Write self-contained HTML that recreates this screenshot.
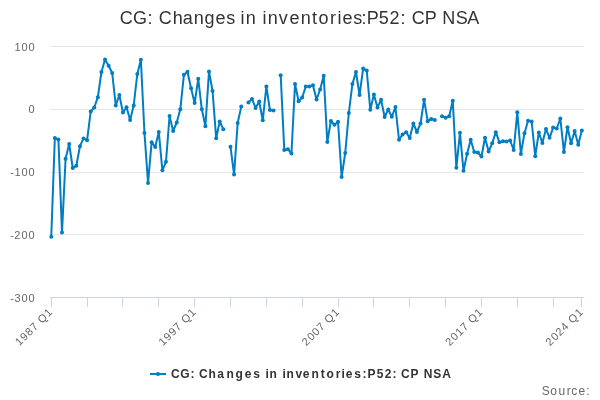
<!DOCTYPE html>
<html><head><meta charset="utf-8"><style>
html,body{margin:0;padding:0;background:#fff;}
body{width:600px;height:400px;overflow:hidden;}
svg{display:block;font-family:"Liberation Sans",sans-serif;will-change:transform;}
</style></head><body>
<svg width="600" height="400" viewBox="0 0 600 400">
<rect width="600" height="400" fill="#fff"/>
<text x="119.69 132.96 147.54 153.50 158.69 172.71 182.85 193.74 204.59 215.57 226.31 234.50 240.51 245.74 256.50 262.51 267.74 278.83 289.57 300.74 311.98 318.51 330.07 337.51 342.57 353.31 361.54 366.74 378.65 389.48 400.54 406.50 411.69 424.74 436.50 442.23 455.81 467.15" y="24.3" font-size="18" fill="#333">CG: Changes in inventories:P52: CP NSA</text>
<g stroke="#e6e6e6" stroke-width="1" fill="none"><path d="M50 46.5 L584 46.5"/><path d="M50 109.5 L584 109.5"/><path d="M50 172.5 L584 172.5"/><path d="M50 234.5 L584 234.5"/></g>
<g stroke="#ccd6eb" stroke-width="1" fill="none"><path d="M50 297.5 L584 297.5"/><path d="M51.5 297 L51.5 307"/><path d="M87.5 297 L87.5 307"/><path d="M122.5 297 L122.5 307"/><path d="M158.5 297 L158.5 307"/><path d="M194.5 297 L194.5 307"/><path d="M230.5 297 L230.5 307"/><path d="M266.5 297 L266.5 307"/><path d="M302.5 297 L302.5 307"/><path d="M338.5 297 L338.5 307"/><path d="M373.5 297 L373.5 307"/><path d="M409.5 297 L409.5 307"/><path d="M445.5 297 L445.5 307"/><path d="M481.5 297 L481.5 307"/><path d="M517.5 297 L517.5 307"/><path d="M553.5 297 L553.5 307"/><path d="M581.5 297 L581.5 307"/></g>
<g font-size="11" fill="#666"><text x="14.39 21.44 28.44" y="50.7" >100</text><text x="28.44" y="112.7" >0</text><text x="10.15 14.39 21.44 28.44" y="175.7" >-100</text><text x="10.15 14.29 21.44 28.44" y="238.7" >-200</text><text x="10.15 14.45 21.44 28.44" y="301.7" >-300</text></g>
<g font-size="11" fill="#666"><g transform="translate(53.25 312.7) rotate(-45)"><text x="-47.61 -40.60 -33.56 -26.58 -19.53 -15.95 -6.61" y="0" >1987 Q1</text></g><g transform="translate(196.65 312.7) rotate(-45)"><text x="-47.61 -40.60 -33.60 -26.58 -19.53 -15.95 -6.61" y="0" >1997 Q1</text></g><g transform="translate(340.05 312.7) rotate(-45)"><text x="-47.71 -40.56 -33.56 -26.58 -19.53 -15.95 -6.61" y="0" >2007 Q1</text></g><g transform="translate(483.45 312.7) rotate(-45)"><text x="-47.71 -40.56 -33.61 -26.58 -19.53 -15.95 -6.61" y="0" >2017 Q1</text></g><g transform="translate(583.83 312.7) rotate(-45)"><text x="-47.71 -40.56 -33.71 -26.56 -19.53 -15.95 -6.61" y="0" >2024 Q1</text></g></g>
<g stroke="#007dc3" stroke-width="2" fill="none" stroke-linejoin="round" stroke-linecap="round"><path d="M51.25 236.80 L54.84 138.00 L58.42 139.50 L62.00 232.60 L65.59 158.70 L69.17 144.00 L72.76 168.00 L76.34 165.70 L79.93 146.20 L83.52 138.40 L87.10 140.20 L90.69 111.50 L94.27 107.50 L97.85 97.20 L101.44 72.00 L105.03 59.50 L108.61 65.80 L112.19 73.00 L115.78 105.50 L119.36 95.00 L122.95 112.50 L126.53 107.20 L130.12 120.00 L133.70 105.50 L137.29 74.00 L140.88 59.70 L144.46 133.00 L148.05 183.00 L151.63 142.20 L155.22 147.00 L158.80 132.00 L162.38 170.30 L165.97 161.80 L169.56 116.00 L173.14 131.00 L176.72 122.50 L180.31 109.30 L183.90 74.80 L187.48 71.80 L191.06 88.20 L194.65 103.00 L198.23 78.80 L201.82 109.30 L205.41 126.20 L208.99 71.50 L212.57 91.00 L216.16 138.20 L219.75 121.50 L223.33 129.20"/><path d="M230.50 146.80 L234.09 174.50 L237.67 123.00 L241.25 106.60"/><path d="M248.43 102.50 L252.01 98.90 L255.59 107.90 L259.18 101.50 L262.76 120.30 L266.35 86.50 L269.94 110.00 L273.52 110.50"/><path d="M280.69 75.20 L284.27 150.00 L287.86 149.20 L291.44 153.50 L295.03 84.00 L298.62 101.20 L302.20 97.50 L305.78 86.50 L309.37 86.50 L312.95 85.30 L316.54 99.50 L320.12 89.50 L323.71 75.80 L327.30 142.00 L330.88 121.00 L334.46 124.80 L338.05 121.80 L341.63 177.00 L345.22 153.00 L348.81 113.00 L352.39 84.00 L355.98 72.00 L359.56 95.00 L363.14 68.60 L366.73 70.60 L370.31 109.80 L373.90 94.50 L377.49 107.50 L381.07 99.80 L384.65 117.00 L388.24 109.50 L391.82 116.80 L395.41 107.00 L399.00 139.70 L402.58 134.50 L406.17 132.20 L409.75 138.00 L413.33 123.50 L416.92 132.00 L420.50 123.50 L424.09 99.70 L427.68 121.20 L431.26 119.00 L434.84 120.00"/><path d="M442.01 116.20 L445.60 117.80 L449.19 116.20 L452.77 100.80 L456.36 167.80 L459.94 132.80 L463.52 170.80 L467.11 153.80 L470.69 139.80 L474.28 152.00 L477.87 152.50 L481.45 156.50 L485.03 137.80 L488.62 151.50 L492.20 143.30 L495.79 132.20 L499.38 142.20 L502.96 141.20 L506.55 141.50 L510.13 140.50 L513.71 150.00 L517.30 112.20 L520.88 154.00 L524.47 133.20 L528.06 120.80 L531.64 121.50 L535.23 156.20 L538.81 132.50 L542.39 143.00 L545.98 129.00 L549.57 137.80 L553.15 127.60 L556.74 128.50 L560.32 118.50 L563.90 152.00 L567.49 127.20 L571.08 143.20 L574.66 131.00 L578.25 144.80 L581.83 130.50"/></g>
<g fill="#007dc3"><circle cx="51.25" cy="236.80" r="2"/><circle cx="54.84" cy="138.00" r="2"/><circle cx="58.42" cy="139.50" r="2"/><circle cx="62.00" cy="232.60" r="2"/><circle cx="65.59" cy="158.70" r="2"/><circle cx="69.17" cy="144.00" r="2"/><circle cx="72.76" cy="168.00" r="2"/><circle cx="76.34" cy="165.70" r="2"/><circle cx="79.93" cy="146.20" r="2"/><circle cx="83.52" cy="138.40" r="2"/><circle cx="87.10" cy="140.20" r="2"/><circle cx="90.69" cy="111.50" r="2"/><circle cx="94.27" cy="107.50" r="2"/><circle cx="97.85" cy="97.20" r="2"/><circle cx="101.44" cy="72.00" r="2"/><circle cx="105.03" cy="59.50" r="2"/><circle cx="108.61" cy="65.80" r="2"/><circle cx="112.19" cy="73.00" r="2"/><circle cx="115.78" cy="105.50" r="2"/><circle cx="119.36" cy="95.00" r="2"/><circle cx="122.95" cy="112.50" r="2"/><circle cx="126.53" cy="107.20" r="2"/><circle cx="130.12" cy="120.00" r="2"/><circle cx="133.70" cy="105.50" r="2"/><circle cx="137.29" cy="74.00" r="2"/><circle cx="140.88" cy="59.70" r="2"/><circle cx="144.46" cy="133.00" r="2"/><circle cx="148.05" cy="183.00" r="2"/><circle cx="151.63" cy="142.20" r="2"/><circle cx="155.22" cy="147.00" r="2"/><circle cx="158.80" cy="132.00" r="2"/><circle cx="162.38" cy="170.30" r="2"/><circle cx="165.97" cy="161.80" r="2"/><circle cx="169.56" cy="116.00" r="2"/><circle cx="173.14" cy="131.00" r="2"/><circle cx="176.72" cy="122.50" r="2"/><circle cx="180.31" cy="109.30" r="2"/><circle cx="183.90" cy="74.80" r="2"/><circle cx="187.48" cy="71.80" r="2"/><circle cx="191.06" cy="88.20" r="2"/><circle cx="194.65" cy="103.00" r="2"/><circle cx="198.23" cy="78.80" r="2"/><circle cx="201.82" cy="109.30" r="2"/><circle cx="205.41" cy="126.20" r="2"/><circle cx="208.99" cy="71.50" r="2"/><circle cx="212.57" cy="91.00" r="2"/><circle cx="216.16" cy="138.20" r="2"/><circle cx="219.75" cy="121.50" r="2"/><circle cx="223.33" cy="129.20" r="2"/><circle cx="230.50" cy="146.80" r="2"/><circle cx="234.09" cy="174.50" r="2"/><circle cx="237.67" cy="123.00" r="2"/><circle cx="241.25" cy="106.60" r="2"/><circle cx="248.43" cy="102.50" r="2"/><circle cx="252.01" cy="98.90" r="2"/><circle cx="255.59" cy="107.90" r="2"/><circle cx="259.18" cy="101.50" r="2"/><circle cx="262.76" cy="120.30" r="2"/><circle cx="266.35" cy="86.50" r="2"/><circle cx="269.94" cy="110.00" r="2"/><circle cx="273.52" cy="110.50" r="2"/><circle cx="280.69" cy="75.20" r="2"/><circle cx="284.27" cy="150.00" r="2"/><circle cx="287.86" cy="149.20" r="2"/><circle cx="291.44" cy="153.50" r="2"/><circle cx="295.03" cy="84.00" r="2"/><circle cx="298.62" cy="101.20" r="2"/><circle cx="302.20" cy="97.50" r="2"/><circle cx="305.78" cy="86.50" r="2"/><circle cx="309.37" cy="86.50" r="2"/><circle cx="312.95" cy="85.30" r="2"/><circle cx="316.54" cy="99.50" r="2"/><circle cx="320.12" cy="89.50" r="2"/><circle cx="323.71" cy="75.80" r="2"/><circle cx="327.30" cy="142.00" r="2"/><circle cx="330.88" cy="121.00" r="2"/><circle cx="334.46" cy="124.80" r="2"/><circle cx="338.05" cy="121.80" r="2"/><circle cx="341.63" cy="177.00" r="2"/><circle cx="345.22" cy="153.00" r="2"/><circle cx="348.81" cy="113.00" r="2"/><circle cx="352.39" cy="84.00" r="2"/><circle cx="355.98" cy="72.00" r="2"/><circle cx="359.56" cy="95.00" r="2"/><circle cx="363.14" cy="68.60" r="2"/><circle cx="366.73" cy="70.60" r="2"/><circle cx="370.31" cy="109.80" r="2"/><circle cx="373.90" cy="94.50" r="2"/><circle cx="377.49" cy="107.50" r="2"/><circle cx="381.07" cy="99.80" r="2"/><circle cx="384.65" cy="117.00" r="2"/><circle cx="388.24" cy="109.50" r="2"/><circle cx="391.82" cy="116.80" r="2"/><circle cx="395.41" cy="107.00" r="2"/><circle cx="399.00" cy="139.70" r="2"/><circle cx="402.58" cy="134.50" r="2"/><circle cx="406.17" cy="132.20" r="2"/><circle cx="409.75" cy="138.00" r="2"/><circle cx="413.33" cy="123.50" r="2"/><circle cx="416.92" cy="132.00" r="2"/><circle cx="420.50" cy="123.50" r="2"/><circle cx="424.09" cy="99.70" r="2"/><circle cx="427.68" cy="121.20" r="2"/><circle cx="431.26" cy="119.00" r="2"/><circle cx="434.84" cy="120.00" r="2"/><circle cx="442.01" cy="116.20" r="2"/><circle cx="445.60" cy="117.80" r="2"/><circle cx="449.19" cy="116.20" r="2"/><circle cx="452.77" cy="100.80" r="2"/><circle cx="456.36" cy="167.80" r="2"/><circle cx="459.94" cy="132.80" r="2"/><circle cx="463.52" cy="170.80" r="2"/><circle cx="467.11" cy="153.80" r="2"/><circle cx="470.69" cy="139.80" r="2"/><circle cx="474.28" cy="152.00" r="2"/><circle cx="477.87" cy="152.50" r="2"/><circle cx="481.45" cy="156.50" r="2"/><circle cx="485.03" cy="137.80" r="2"/><circle cx="488.62" cy="151.50" r="2"/><circle cx="492.20" cy="143.30" r="2"/><circle cx="495.79" cy="132.20" r="2"/><circle cx="499.38" cy="142.20" r="2"/><circle cx="502.96" cy="141.20" r="2"/><circle cx="506.55" cy="141.50" r="2"/><circle cx="510.13" cy="140.50" r="2"/><circle cx="513.71" cy="150.00" r="2"/><circle cx="517.30" cy="112.20" r="2"/><circle cx="520.88" cy="154.00" r="2"/><circle cx="524.47" cy="133.20" r="2"/><circle cx="528.06" cy="120.80" r="2"/><circle cx="531.64" cy="121.50" r="2"/><circle cx="535.23" cy="156.20" r="2"/><circle cx="538.81" cy="132.50" r="2"/><circle cx="542.39" cy="143.00" r="2"/><circle cx="545.98" cy="129.00" r="2"/><circle cx="549.57" cy="137.80" r="2"/><circle cx="553.15" cy="127.60" r="2"/><circle cx="556.74" cy="128.50" r="2"/><circle cx="560.32" cy="118.50" r="2"/><circle cx="563.90" cy="152.00" r="2"/><circle cx="567.49" cy="127.20" r="2"/><circle cx="571.08" cy="143.20" r="2"/><circle cx="574.66" cy="131.00" r="2"/><circle cx="578.25" cy="144.80" r="2"/><circle cx="581.83" cy="130.50" r="2"/></g>
<path d="M150 374 L166 374" stroke="#007dc3" stroke-width="2"/>
<circle cx="158" cy="374" r="2" fill="#007dc3"/>
<text x="170.90 180.24 190.40 195.33 198.90 208.59 217.28 226.62 235.55 244.67 253.30 261.33 265.40 269.62 278.33 282.40 286.62 295.58 302.67 311.62 320.81 326.46 335.81 341.40 345.67 354.30 362.40 367.50 376.86 384.82 392.40 397.33 400.90 410.50 419.33 423.69 433.37 442.32" y="378.2" font-size="12" font-weight="bold" fill="#333">CG: Changes in inventories:P52: CP NSA</text>
<text x="541.87 550.34 558.44 566.71 571.16 578.38 586.36" y="395.1" font-size="12" fill="#666">Source:</text>
</svg>
</body></html>
